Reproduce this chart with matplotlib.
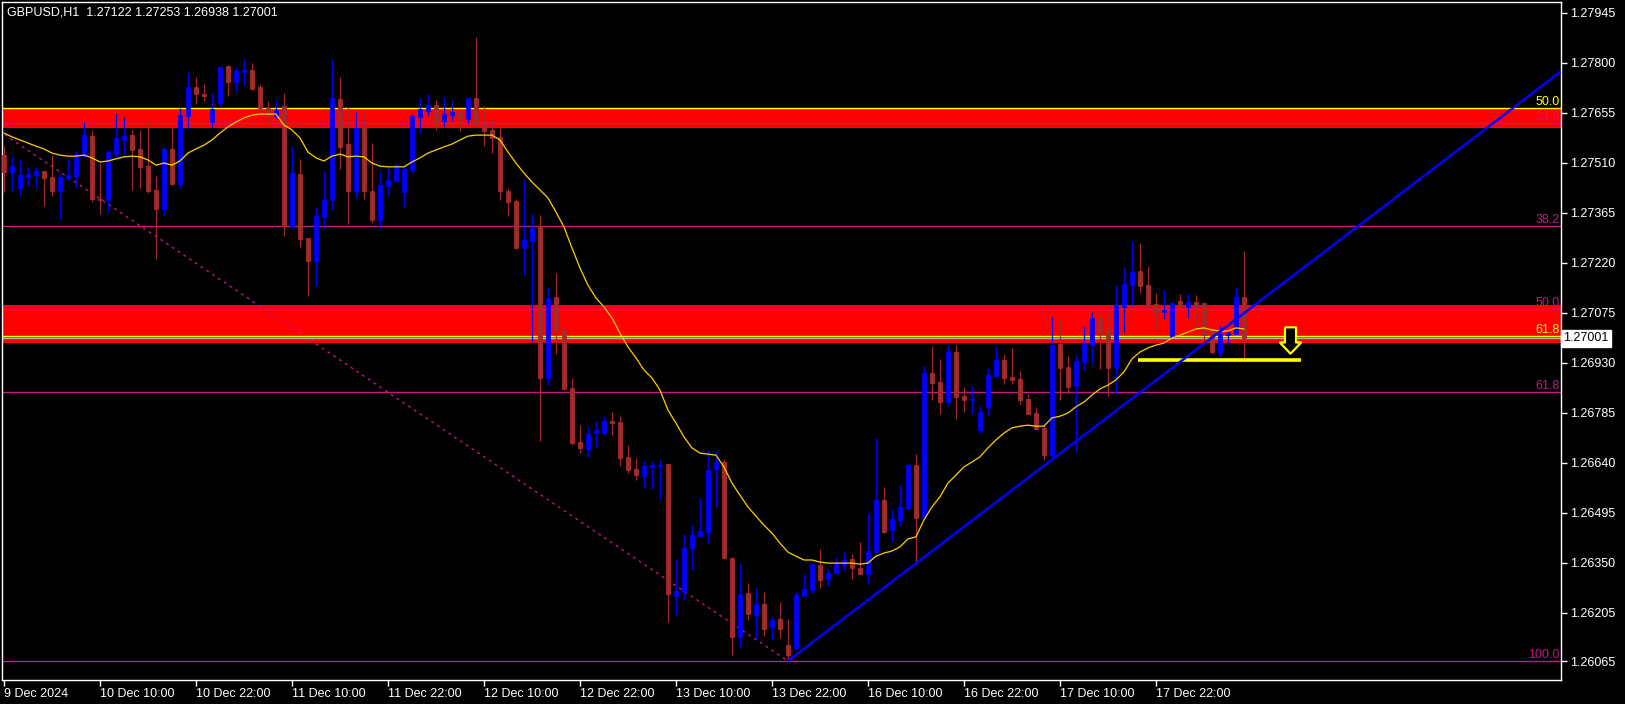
import matplotlib.pyplot as plt
from matplotlib.path import Path
from matplotlib.transforms import blended_transform_factory

plt.rcParams['font.family'] = ['Liberation Sans', 'DejaVu Sans']

symbol_line = "GBPUSD,H1  1.27122 1.27253 1.26938 1.27001"

# hourly candles, bar 0 = 9 Dec 22:00
opens = [
    1.27532, 1.27483, 1.27437, 1.27469, 1.27474, 1.27486, 1.27469, 1.27428, 1.27466, 1.27471,
    1.27535, 1.27587, 1.27405, 1.27402, 1.27535, 1.27576, 1.27590, 1.27550, 1.27500, 1.27431,
    1.27376, 1.27550, 1.27448, 1.27645, 1.27730, 1.27709, 1.27628, 1.27683, 1.27790, 1.27744,
    1.27773, 1.27779, 1.27730, 1.27669, 1.27645, 1.27674, 1.27326, 1.27477, 1.27292, 1.27225,
    1.27353, 1.27402, 1.27695, 1.27564, 1.27428, 1.27611, 1.27428, 1.27344, 1.27442, 1.27457,
    1.27425, 1.27489, 1.27643, 1.27660, 1.27677, 1.27631, 1.27648, 1.27657, 1.27637, 1.27698,
    1.27619, 1.27605, 1.27585, 1.27428, 1.27399, 1.27263, 1.27283, 1.27326, 1.26886, 1.27121,
    1.27025, 1.26857, 1.26700, 1.26680, 1.26726, 1.26726, 1.26761, 1.26758, 1.26657, 1.26622,
    1.26601, 1.26628, 1.26630, 1.26636, 1.26253, 1.26265, 1.26393, 1.26427, 1.26439, 1.26622,
    1.26642, 1.26364, 1.26135, 1.26262, 1.26198, 1.26230, 1.26164, 1.26187, 1.26111, 1.26103,
    1.26253, 1.26271, 1.26343, 1.26303, 1.26320, 1.26343, 1.26361, 1.26335, 1.26317, 1.26381,
    1.26532, 1.26445, 1.26474, 1.26509, 1.26633, 1.26483, 1.26900, 1.26874, 1.26816, 1.26961,
    1.26833, 1.26822, 1.26735, 1.26802, 1.26891, 1.26938, 1.26889, 1.26883, 1.26825, 1.26784,
    1.26741, 1.26662, 1.26984, 1.26918, 1.26862, 1.26932, 1.26981, 1.27060, 1.27025, 1.26915,
    1.27092, 1.27155, 1.27196, 1.27155, 1.27100, 1.27077, 1.27005, 1.27109, 1.27092, 1.27106,
    1.27103, 1.27025, 1.26961, 1.27010, 1.27013, 1.27122,
]
highs = [
    1.27558, 1.27529, 1.27521, 1.27498, 1.27498, 1.27486, 1.27532, 1.27477, 1.27521, 1.27544,
    1.27628, 1.27605, 1.27509, 1.27547, 1.27654, 1.27643, 1.27605, 1.27605, 1.27622, 1.27471,
    1.27556, 1.27611, 1.27669, 1.27773, 1.27759, 1.27738, 1.27712, 1.27788, 1.27793, 1.27788,
    1.27811, 1.27799, 1.27738, 1.27689, 1.27692, 1.27712, 1.27558, 1.27521, 1.27292, 1.27382,
    1.27486, 1.27811, 1.27759, 1.27672, 1.27657, 1.27648, 1.27567, 1.27486, 1.27495, 1.27509,
    1.27503, 1.27651, 1.27698, 1.27709, 1.27692, 1.27701, 1.27692, 1.27663, 1.27698, 1.27875,
    1.27674, 1.27637, 1.27611, 1.27437, 1.27405, 1.27460, 1.27361, 1.27358, 1.27147, 1.27190,
    1.27031, 1.26886, 1.26749, 1.26744, 1.26761, 1.26775, 1.26787, 1.26775, 1.26691, 1.26654,
    1.26645, 1.26642, 1.26648, 1.26636, 1.26361, 1.26433, 1.26459, 1.26538, 1.26677, 1.26674,
    1.26651, 1.26367, 1.26346, 1.26291, 1.26277, 1.26265, 1.26193, 1.26236, 1.26187, 1.26265,
    1.26317, 1.26346, 1.26390, 1.26332, 1.26367, 1.26381, 1.26375, 1.26410, 1.26494, 1.26712,
    1.26570, 1.26506, 1.26575, 1.26639, 1.26665, 1.26920, 1.26978, 1.26941, 1.26981, 1.26981,
    1.26860, 1.26862, 1.26804, 1.26915, 1.26978, 1.26955, 1.26973, 1.26906, 1.26839, 1.26802,
    1.26749, 1.27063, 1.27057, 1.26949, 1.26952, 1.27036, 1.27077, 1.27071, 1.27071, 1.27155,
    1.27208, 1.27283, 1.27277, 1.27210, 1.27132, 1.27141, 1.27103, 1.27129, 1.27129, 1.27126,
    1.27103, 1.27036, 1.27036, 1.27025, 1.27150, 1.27253,
]
lows = [
    1.27425, 1.27428, 1.27416, 1.27442, 1.27437, 1.27384, 1.27413, 1.27347, 1.27460, 1.27437,
    1.27527, 1.27396, 1.27361, 1.27367, 1.27524, 1.27529, 1.27431, 1.27437, 1.27422, 1.27231,
    1.27355, 1.27445, 1.27437, 1.27608, 1.27680, 1.27689, 1.27611, 1.27672, 1.27703, 1.27715,
    1.27732, 1.27721, 1.27654, 1.27625, 1.27637, 1.27297, 1.27321, 1.27266, 1.27123, 1.27152,
    1.27321, 1.27373, 1.27492, 1.27332, 1.27408, 1.27405, 1.27335, 1.27321, 1.27413, 1.27457,
    1.27382, 1.27480, 1.27596, 1.27645, 1.27605, 1.27614, 1.27631, 1.27602, 1.27625, 1.27622,
    1.27558, 1.27538, 1.27402, 1.27355, 1.27260, 1.27184, 1.26990, 1.26703, 1.26865, 1.26955,
    1.26854, 1.26691, 1.26668, 1.26657, 1.26683, 1.26720, 1.26720, 1.26630, 1.26610, 1.26590,
    1.26567, 1.26564, 1.26532, 1.26178, 1.26195, 1.26242, 1.26329, 1.26425, 1.26407, 1.26512,
    1.26361, 1.26082, 1.26103, 1.26184, 1.26126, 1.26137, 1.26126, 1.26132, 1.26065, 1.26097,
    1.26253, 1.26262, 1.26277, 1.26282, 1.26320, 1.26329, 1.26303, 1.26314, 1.26288, 1.26381,
    1.26436, 1.26410, 1.26456, 1.26506, 1.26346, 1.26483, 1.26822, 1.26781, 1.26804, 1.26767,
    1.26787, 1.26781, 1.26726, 1.26778, 1.26889, 1.26868, 1.26868, 1.26810, 1.26781, 1.26738,
    1.26648, 1.26654, 1.26822, 1.26839, 1.26671, 1.26909, 1.26926, 1.26912, 1.26833, 1.26839,
    1.27016, 1.27094, 1.27132, 1.27092, 1.27022, 1.27057, 1.27005, 1.27094, 1.27060, 1.27025,
    1.26996, 1.26955, 1.26947, 1.26981, 1.27013, 1.26938,
]
closes = [
    1.27483, 1.27500, 1.27474, 1.27477, 1.27486, 1.27466, 1.27428, 1.27469, 1.27474, 1.27535,
    1.27590, 1.27405, 1.27402, 1.27541, 1.27582, 1.27587, 1.27547, 1.27498, 1.27428, 1.27376,
    1.27550, 1.27448, 1.27648, 1.27730, 1.27709, 1.27703, 1.27666, 1.27788, 1.27744, 1.27776,
    1.27779, 1.27724, 1.27669, 1.27651, 1.27663, 1.27326, 1.27480, 1.27289, 1.27225, 1.27355,
    1.27402, 1.27698, 1.27556, 1.27428, 1.27611, 1.27428, 1.27344, 1.27445, 1.27460, 1.27503,
    1.27492, 1.27645, 1.27666, 1.27677, 1.27628, 1.27651, 1.27657, 1.27637, 1.27698, 1.27622,
    1.27602, 1.27582, 1.27428, 1.27396, 1.27263, 1.27286, 1.27321, 1.26886, 1.27118, 1.27025,
    1.26854, 1.26697, 1.26683, 1.26723, 1.26735, 1.26761, 1.26755, 1.26654, 1.26619, 1.26604,
    1.26630, 1.26633, 1.26633, 1.26259, 1.26268, 1.26393, 1.26430, 1.26442, 1.26619, 1.26642,
    1.26364, 1.26135, 1.26259, 1.26201, 1.26230, 1.26158, 1.26184, 1.26158, 1.26082, 1.26256,
    1.26274, 1.26346, 1.26300, 1.26320, 1.26346, 1.26358, 1.26335, 1.26317, 1.26384, 1.26532,
    1.26439, 1.26477, 1.26512, 1.26633, 1.26480, 1.26900, 1.26871, 1.26816, 1.26961, 1.26831,
    1.26822, 1.26825, 1.26787, 1.26894, 1.26938, 1.26886, 1.26880, 1.26822, 1.26781, 1.26738,
    1.26662, 1.26981, 1.26915, 1.26860, 1.26935, 1.26987, 1.27060, 1.27016, 1.26915, 1.27097,
    1.27158, 1.27193, 1.27152, 1.27097, 1.27077, 1.27083, 1.27103, 1.27094, 1.27106, 1.27094,
    1.27010, 1.26961, 1.27013, 1.27016, 1.27121, 1.27001,
]
# moving average as drawn on the chart
ma_line = [
    1.27596, 1.27585, 1.27576, 1.27567, 1.27558, 1.27550, 1.27538, 1.27532, 1.27529, 1.27529,
    1.27532, 1.27524, 1.27512, 1.27515, 1.27521, 1.27527, 1.27529, 1.27527, 1.27518, 1.27503,
    1.27509, 1.27503, 1.27515, 1.27538, 1.27550, 1.27561, 1.27576, 1.27596, 1.27614, 1.27628,
    1.27640, 1.27648, 1.27651, 1.27651, 1.27651, 1.27619, 1.27605, 1.27582, 1.27541, 1.27524,
    1.27515, 1.27529, 1.27535, 1.27527, 1.27529, 1.27527, 1.27509, 1.27500, 1.27498, 1.27498,
    1.27498, 1.27512, 1.27524, 1.27538, 1.27547, 1.27556, 1.27564, 1.27576, 1.27587, 1.27590,
    1.27590, 1.27590, 1.27576, 1.27541, 1.27509, 1.27480, 1.27454, 1.27431, 1.27408, 1.27367,
    1.27324, 1.27263, 1.27205, 1.27155, 1.27118, 1.27092, 1.27060, 1.27016, 1.26976, 1.26944,
    1.26909, 1.26886, 1.26851, 1.26793, 1.26755, 1.26715, 1.26683, 1.26668, 1.26665, 1.26662,
    1.26628, 1.26581, 1.26546, 1.26512, 1.26485, 1.26459, 1.26436, 1.26407, 1.26381, 1.26369,
    1.26358, 1.26358, 1.26352, 1.26349, 1.26349, 1.26349, 1.26349, 1.26346, 1.26349, 1.26369,
    1.26378, 1.26384, 1.26396, 1.26419, 1.26425, 1.26474, 1.26512, 1.26541, 1.26581, 1.26604,
    1.26628, 1.26642, 1.26657, 1.26683, 1.26706, 1.26726, 1.26741, 1.26746, 1.26749, 1.26746,
    1.26746, 1.26770, 1.26775, 1.26784, 1.26802, 1.26816, 1.26836, 1.26854, 1.26865, 1.26880,
    1.26903, 1.26941, 1.26961, 1.26973, 1.26981, 1.26987, 1.27002, 1.27010, 1.27019, 1.27028,
    1.27031, 1.27025, 1.27022, 1.27022, 1.27031, 1.27028,
]

time_labels = ['9 Dec 2024', '10 Dec 10:00', '10 Dec 22:00', '11 Dec 10:00', '11 Dec 22:00',
               '12 Dec 10:00', '12 Dec 22:00', '13 Dec 10:00', '13 Dec 22:00', '16 Dec 10:00',
               '16 Dec 22:00', '17 Dec 10:00', '17 Dec 22:00']
label_step = 12

price_ticks = [1.27945, 1.27800, 1.27655, 1.27510, 1.27365, 1.27220, 1.27075,
               1.26930, 1.26785, 1.26640, 1.26495, 1.26350, 1.26205, 1.26065]

# drawn objects
zone_upper = (1.27612, 1.27668)
zone_lower = (1.26988, 1.27097)
yellow_levels = [('50.0', 1.27668), ('61.8', 1.27008)]
fib_high, fib_low = 1.28107, 1.26065
fib_high_bar, fib_low_bar = -33, 98
fib_levels = [23.6, 38.2, 50.0, 61.8, 100.0]
trend_p1 = (98, 1.26065)
trend_p2 = (150, 1.26985)
support_price = 1.26938
support_from, support_to = 141.75, 162.1
arrow_bar, arrow_price = 160.8, 1.26995
last_price = 1.27001

BULL = '#0000FF'
BEAR = '#A52A2A'
FIB = '#C71585'

fig = plt.figure(figsize=(16.25, 7.04), dpi=100, facecolor='black')
ax = fig.add_axes([2.3 / 1625, 1 - 680 / 704, 1558.4 / 1625, 678 / 704])
ax.set_facecolor('black')

x_left, x_right = -0.21, 194.6
ax.set_xlim(x_left, x_right)
ax.set_ylim(1.26010, 1.27976)

# red zones
for lo, hi in (zone_upper, zone_lower):
    ax.axhspan(lo, hi, color='#FF0000', lw=0, zorder=1)

# fibonacci (magenta)
rng = fib_high - fib_low
ax.plot([fib_high_bar, fib_low_bar], [fib_high, fib_low], color=FIB, lw=1,
        ls=(0, (2, 3)), zorder=2)
for lvl in fib_levels:
    p = fib_low + (1 - lvl / 100) * rng
    ax.axhline(p, color=FIB, lw=1, zorder=2)
    ax.text(0.9995, p, f'{lvl:.1f}', color=FIB, fontsize=9, ha='right', va='bottom',
            transform=blended_transform_factory(ax.transAxes, ax.transData), zorder=2)

for name, p in yellow_levels:
    ax.axhline(p, color='#FFFF00', lw=1, zorder=2)
    ax.text(0.9995, p, name, color='#FFFF00', fontsize=9, ha='right', va='bottom',
            transform=blended_transform_factory(ax.transAxes, ax.transData), zorder=2)

# bid line
ax.axhline(last_price, color='#B0B0B0', lw=1, zorder=2)

# candles
n = len(opens)
xs = list(range(n))
colors = [BULL if c >= o else BEAR for o, c in zip(opens, closes)]
ax.vlines(xs, lows, highs, colors=colors, lw=0.9, zorder=3)
bottoms = [min(o, c) for o, c in zip(opens, closes)]
heights = [abs(c - o) for o, c in zip(opens, closes)]
ax.bar(xs, heights, bottom=bottoms, width=0.6, color=colors, edgecolor=colors,
       linewidth=0.6, zorder=3)

# moving average
ax.plot(xs, ma_line, color='#FFD000', lw=0.9, zorder=4)

# trend line from the low, extended to the right edge
slope = (trend_p2[1] - trend_p1[1]) / (trend_p2[0] - trend_p1[0])
ax.plot([trend_p1[0], x_right], [trend_p1[1], trend_p1[1] + slope * (x_right - trend_p1[0])],
        color='#0000FF', lw=1.8, zorder=6, solid_capstyle='butt')

# support line and arrow
ax.plot([support_from, support_to], [support_price, support_price], color='#FFFF00',
        lw=2.6, zorder=5, solid_capstyle='butt')
arrow = Path([(-0.42, 1), (0.42, 1), (0.42, -0.15), (0.81, -0.15), (0, -1),
              (-0.81, -0.15), (-0.42, -0.15), (-0.42, 1)])
ax.plot([arrow_bar], [arrow_price], marker=arrow, markersize=19, markerfacecolor='black',
        markeredgecolor='#FFFF00', markeredgewidth=1.6, ls='none', zorder=7)

# axes styling
for side in ('top', 'bottom', 'left', 'right'):
    ax.spines[side].set_color('white')
    ax.spines[side].set_linewidth(1)

ax.yaxis.tick_right()
ax.set_yticks(price_ticks)
ax.set_yticklabels([f'{p:.5f}' for p in price_ticks])
ax.tick_params(axis='y', colors='white', labelcolor='white', labelsize=9, length=4,
               width=1, direction='out', pad=3)

ax.set_xticks([i * label_step for i in range(len(time_labels))])
ax.set_xticklabels(time_labels)
for t in ax.get_xticklabels():
    t.set_horizontalalignment('left')
ax.tick_params(axis='x', colors='white', labelcolor='white', labelsize=9, length=4,
               width=1, direction='out', pad=2)

# current price tag
ax.text(1.0015, last_price, f'{last_price:.5f}', color='black', fontsize=9, ha='left',
        va='center', transform=blended_transform_factory(ax.transAxes, ax.transData),
        bbox=dict(boxstyle='square,pad=0.2', facecolor='white', edgecolor='white'),
        clip_on=False, zorder=10)

ax.text(0.003, 0.994, symbol_line, color='white', fontsize=9, ha='left', va='top',
        transform=ax.transAxes, zorder=10)

fig.savefig('out.png', dpi=100, facecolor='black')
